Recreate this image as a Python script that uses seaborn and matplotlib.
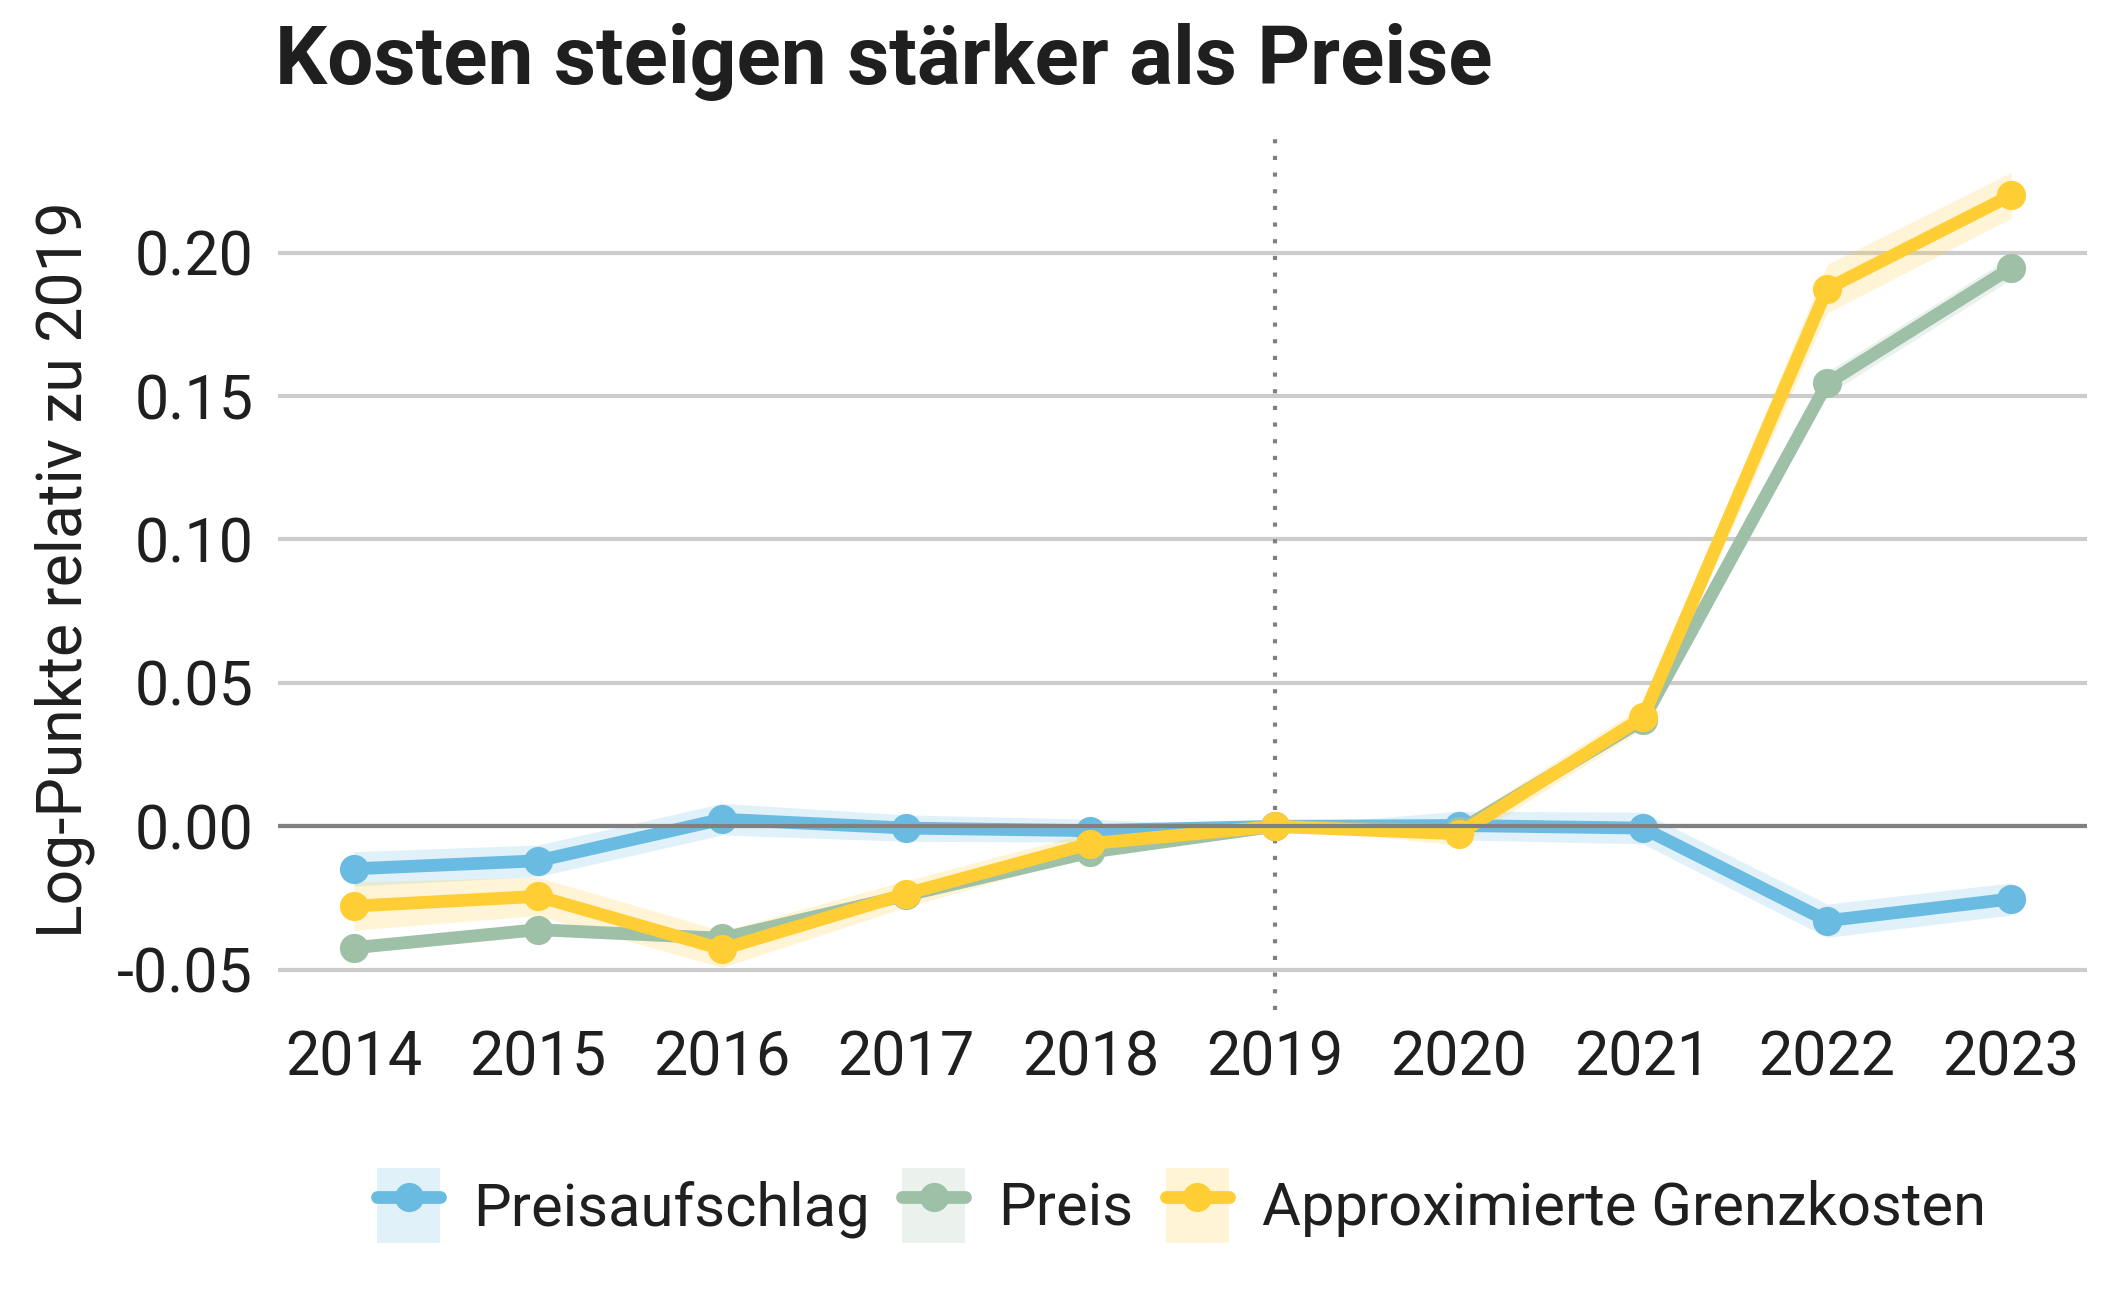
import pandas as pd
import matplotlib.pyplot as plt
import seaborn as sns
from matplotlib.patches import Patch
from matplotlib.lines import Line2D

# Werte (Log-Punkte relativ zu 2019)
years = [2014, 2015, 2016, 2017, 2018, 2019, 2020, 2021, 2022, 2023]
preisaufschlag = [-0.0148, -0.0120, 0.0025, -0.0006, -0.0015, 0.0, 0.0003, -0.0006, -0.0329, -0.0253]
preis = [-0.0423, -0.0360, -0.0390, -0.0240, -0.0090, 0.0, -0.0015, 0.0370, 0.1544, 0.1947]
grenzkosten = [-0.0278, -0.0244, -0.0428, -0.0235, -0.0060, 0.0, -0.0026, 0.0380, 0.1874, 0.2200]

# halbe Breite der Konfidenzbänder
ci_preisaufschlag = [0.0060, 0.0055, 0.0055, 0.0046, 0.0040, 0.0, 0.0050, 0.0055, 0.0058, 0.0056]
ci_preis = [0.0020, 0.0020, 0.0020, 0.0020, 0.0020, 0.0, 0.0020, 0.0020, 0.0040, 0.0040]
ci_grenzkosten = [0.0084, 0.0067, 0.0064, 0.0046, 0.0040, 0.0, 0.0040, 0.0040, 0.0085, 0.0080]

series_names = ['Preisaufschlag', 'Preis', 'Approximierte Grenzkosten']
colors = ['#6ABBE1', '#9DC0A7', '#FFCE34']

values = [preisaufschlag, preis, grenzkosten]
cis = [ci_preisaufschlag, ci_preis, ci_grenzkosten]

df = pd.concat([
    pd.DataFrame({'year': years, 'value': v, 'ci': c, 'series': n})
    for n, v, c in zip(series_names, values, cis)
])
df['lo'] = df['value'] - df['ci']
df['hi'] = df['value'] + df['ci']

sns.set_style('white')
plt.rcParams['font.family'] = ['Roboto', 'DejaVu Sans']
text_color = '#1f1f1f'
lw = 4.6
ms = 10.5

fig = plt.figure(figsize=(10.625, 6.495), dpi=200)
ax = fig.add_axes([0.131, 0.2225, 0.851, 0.678])

# Konfidenzbänder
for name, color in zip(series_names, colors):
    sub = df[df['series'] == name]
    ax.fill_between(sub['year'], sub['lo'], sub['hi'], color=color, alpha=0.2, linewidth=0, zorder=1)

sns.lineplot(data=df, x='year', y='value', hue='series', hue_order=series_names,
             palette=dict(zip(series_names, colors)), marker='o', markersize=ms,
             markeredgewidth=0, linewidth=lw, ax=ax, legend=False, zorder=3)

ax.axhline(0, color='#808080', linewidth=1.5, zorder=5)
ax.axvline(2019, color='#808080', linewidth=1.5, linestyle=(0, (1, 3)), zorder=2)

ax.set_xlim(2014 - 0.41, 2023 + 0.41)
ax.set_ylim(-0.064, 0.243)
ax.set_xticks(years)
ax.set_yticks([-0.05, 0.0, 0.05, 0.10, 0.15, 0.20])
ax.set_yticklabels(['-0.05', '0.00', '0.05', '0.10', '0.15', '0.20'])
ax.yaxis.grid(True, color='#cccccc', linewidth=1.5)
ax.xaxis.grid(False)
ax.set_axisbelow(True)
for s in ax.spines.values():
    s.set_visible(False)
ax.tick_params(axis='both', length=0, labelsize=22, colors=text_color)
ax.tick_params(axis='y', pad=9)
ax.tick_params(axis='x', pad=7)

ax.set_xlabel('')
ax.set_ylabel('Log-Punkte relativ zu 2019', fontsize=22.5, color=text_color, labelpad=8)

fig.text(0.1295, 0.935, 'Kosten steigen stärker als Preise', fontsize=29.5,
         fontweight='bold', color=text_color, ha='left', va='baseline')

handles = [(Patch(facecolor=c, alpha=0.2, edgecolor='none'),
            Line2D([], [], color=c, linewidth=lw, marker='o', markersize=ms, markeredgewidth=0))
           for c in colors]
fig.legend(handles, series_names, loc='center', bbox_to_anchor=(0.556, 0.072), ncol=3,
           frameon=False, fontsize=21.5, handlelength=1.05, handleheight=1.55,
           handletextpad=0.55, columnspacing=0.55, labelcolor=text_color)

fig.savefig('out.png', dpi=200)
